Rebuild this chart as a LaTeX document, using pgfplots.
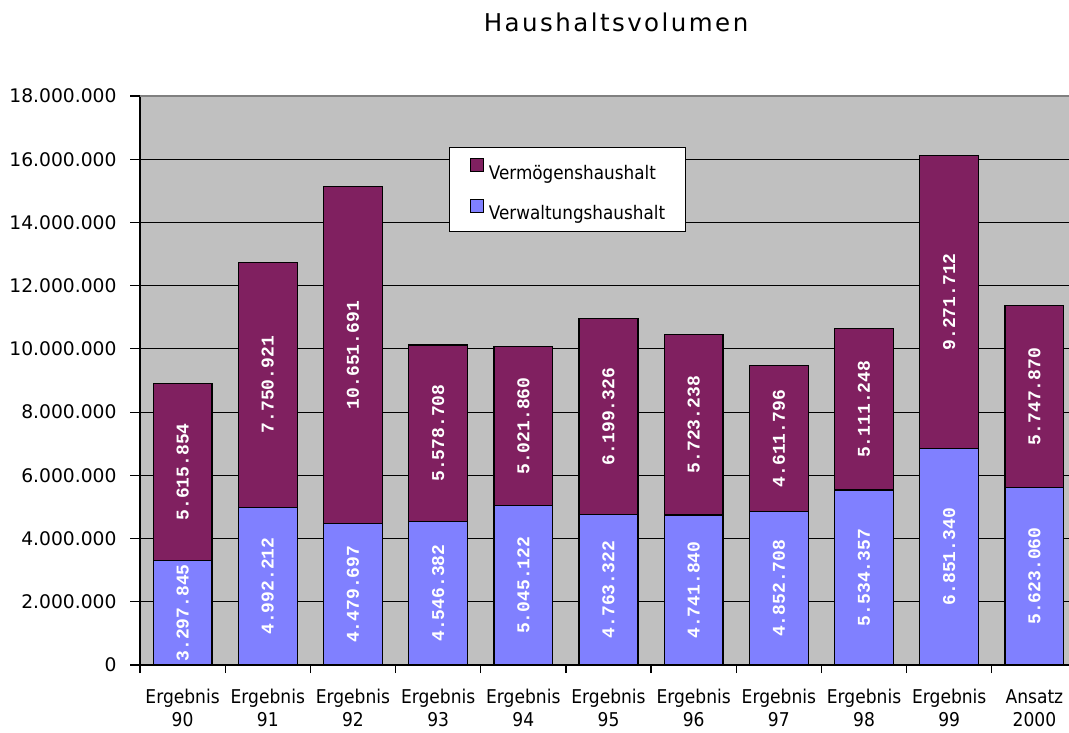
\documentclass[border=0pt]{standalone}
\usepackage{fontspec}
\setmainfont{DejaVu Sans}
\newfontfamily\titlefont{DejaVu Sans}[LetterSpace=10]
\newfontfamily\condfont{DejaVu Sans}[FakeStretch=0.9]
\newfontfamily\lblfont{Liberation Mono}
\usepackage{pgfplots}
\usepackage{pgfplotstable}
\pgfplotsset{compat=1.18}
\definecolor{bgc}{HTML}{C0C0C0}
\definecolor{vermc}{HTML}{802060}
\definecolor{verwc}{HTML}{8080FF}
\definecolor{topc}{HTML}{808080}

\pgfplotstableread{
x verw verm verwl verml
0 3297845 5615854 3.297.845 5.615.854
1 4992212 7750921 4.992.212 7.750.921
2 4479697 10651691 4.479.697 10.651.691
3 4546382 5578708 4.546.382 5.578.708
4 5045122 5021860 5.045.122 5.021.860
5 4763322 6199326 4.763.322 6.199.326
6 4741840 5723238 4.741.840 5.723.238
7 4852708 4611796 4.852.708 4.611.796
8 5534357 5111248 5.534.357 5.111.248
9 6851340 9271712 6.851.340 9.271.712
10 5623060 5747870 5.623.060 5.747.870
}\data

\pgfplotsset{common/.style={
  width=937bp, height=569bp, scale only axis,
  at={(140bp,68bp)}, anchor=south west,
  xmin=-0.5, xmax=10.5, ymin=0, ymax=18000000,
}}

\begin{document}
\begin{tikzpicture}
\useasboundingbox (0,0) rectangle (1069bp,733bp);
\begin{axis}[common,
  ybar stacked, bar width=0.69,
  axis background/.style={fill=bgc},
  axis lines*=left,
  axis line style={black, line width=2bp},
  xtick={0,1,2,3,4,5,6,7,8,9,10},
  xticklabels={{Ergebnis\\90},{Ergebnis\\91},{Ergebnis\\92},{Ergebnis\\93},{Ergebnis\\94},{Ergebnis\\95},{Ergebnis\\96},{Ergebnis\\97},{Ergebnis\\98},{Ergebnis\\99},{Ansatz\\2000}},
  minor xtick={-0.5,0.5,1.5,2.5,3.5,4.5,5.5,6.5,7.5,8.5,9.5,10.5},
  tick align=outside,
  major tick length=10bp, minor tick length=8bp,
  major x tick style={draw=none},
  minor x tick style={black, line width=1.2bp},
  major y tick style={black, line width=1.2bp},
  ytick={0,2000000,4000000,6000000,8000000,10000000,12000000,14000000,16000000},
  extra y ticks={18000000},
  extra y tick style={grid=major, major grid style={topc, line width=2bp}},
  ymajorgrids, major grid style={black, line width=1bp},
  scaled y ticks=false,
  yticklabel style={/pgf/number format/fixed, /pgf/number format/1000 sep={.}, /pgf/number format/assume math mode=true, font=\fontsize{18.7bp}{20bp}\selectfont},
  yticklabel shift=10bp,
  xticklabel style={align=center, font=\condfont\fontsize{19bp}{23bp}\selectfont},
  xticklabel shift=11bp,
  legend style={at={(0.3298,0.9104)}, anchor=north west, draw=black, line width=1.2bp, fill=white,
    inner xsep=20bp, inner ysep=10bp, row sep=18bp, column sep=5bp,
    font=\condfont\fontsize{18.7bp}{22bp}\selectfont, nodes={inner sep=0pt}},
  legend cell align=left,
  reverse legend,
  legend image code/.code={\draw[#1, line width=1.2bp] (0bp,1.5bp) rectangle (13bp,14.5bp);},
]
\addplot[fill=verwc, draw=black, line width=1.3bp] table[x=x, y=verw]{\data};
\addlegendentry{Verwaltungshaushalt}
\addplot[fill=vermc, draw=black, line width=1.3bp] table[x=x, y=verm]{\data};
\addlegendentry{Vermögenshaushalt}
\end{axis}
\begin{axis}[common, hide axis, clip=false,
  nodes near coords, point meta=explicit symbolic,
  every node near coord/.append style={rotate=90, anchor=center, text=white, font=\lblfont\bfseries\fontsize{18bp}{18bp}\selectfont, inner sep=0pt}]
\addplot[draw=none, mark=none] table[x=x, y expr=\thisrow{verw}/2, meta=verwl]{\data};
\addplot[draw=none, mark=none] table[x=x, y expr=\thisrow{verw}+\thisrow{verm}/2, meta=verml]{\data};
\end{axis}
\node[font=\titlefont\fontsize{24.5bp}{28bp}\selectfont, anchor=base] at (616bp,701.3bp) {Haushaltsvolumen};
\end{tikzpicture}
\end{document}
